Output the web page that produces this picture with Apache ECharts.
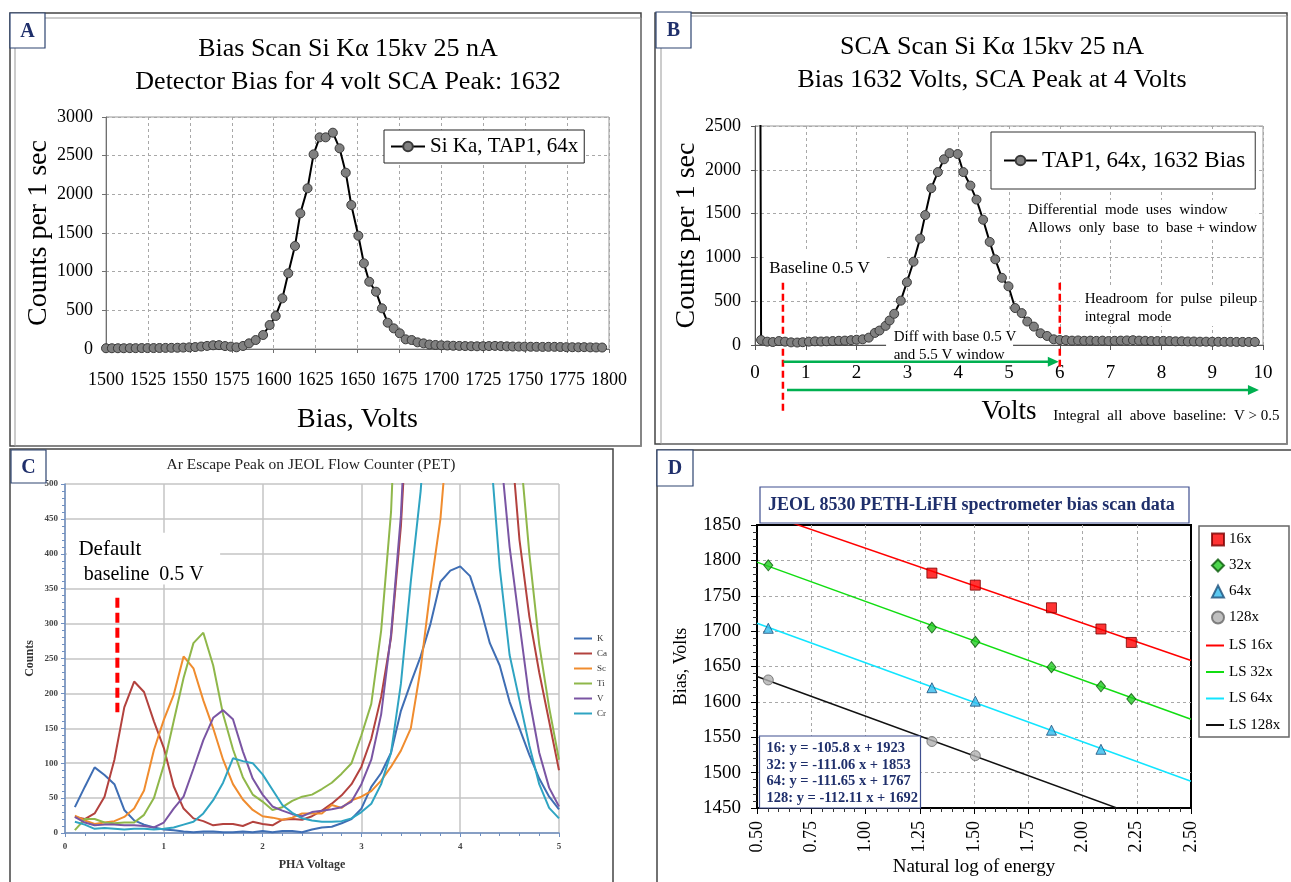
<!DOCTYPE html>
<html><head><meta charset="utf-8">
<script src="https://cdn.jsdelivr.net/npm/echarts@6/dist/echarts.min.js"></script>
<style>html,body{margin:0;padding:0;background:#fff}#c{width:1291px;height:882px}</style>
</head><body><div id="c"></div>
<script>
const FONT = '"Liberation Serif","Times New Roman",serif';
const NAVY = '#1F2F6B';

// ---------------- Panel A : bias scan ----------------
const A_BIAS = [1500,1503.5,1507.1,1510.6,1514.2,1517.7,1521.3,1524.8,1528.4,1531.9,1535.5,1539,1542.6,1546.1,1549.7,1553.2,1556.8,1560.3,1563.9,1567.4,1571,1574.5,
  1577.8,1581.7,1585.3,1589.3,1593.7,1597.6,1601.2,1605.2,1608.7,1612.7,1615.9,1620.2,1623.8,1627.4,1631,1635.3,
  1639.3,1643,1646.3,1650.5,1653.8,1657,1661,1664.6,1668,
  1671.6,1675.2,1678.7,1682.3,1685.8,1689.4,1692.9,1696.5,1700,1703.6,1707.1,1710.7,1714.2,1717.8,1721.3,1724.9,1728.4,1732,1735.5,1739.1,1742.6,1746.2,1749.7,1753.3,1756.8,1760.4,1763.9,1767.5,1771,1774.6,1778.1,1781.7,1785.2,1788.8,1792.3,1795.9];
const A_COUNTS = [10,10,10,10,11,11,12,12,12,13,14,15,16,18,22,25,32,40,48,50,38,30,
  22,39,73,116,181,310,427,655,979,1332,1754,2078,2517,2737,2737,2797,
  2595,2280,1862,1465,1108,870,741,526,340,
  267,203,125,116,86,73,58,52,48,45,42,40,38,36,35,36,38,40,37,34,32,31,30,29,28,27,28,28,26,24,23,22,24,21,20,19];

// ---------------- Panel B : SCA scan ----------------
const B_SPIKE = [0.1, 4000];
const B_VOLTS = [0.12,0.24,0.35,0.47,0.59,0.71,0.83,0.94,1.06,1.18,1.3,1.41,1.53,1.65,1.77,1.89,2.0,
  2.12,2.24,2.36,2.45,2.57,2.65,2.74,2.87,2.99,3.12,3.25,3.35,3.47,3.6,3.72,3.83,3.99,
  4.1,4.24,4.36,4.49,4.62,4.73,4.86,4.99,5.12,5.25,5.36,5.49,5.62,5.75,5.88,6.0,
  6.12,6.24,6.36,6.48,6.6,6.72,6.84,6.96,7.08,7.2,7.32,7.44,7.56,7.68,7.8,7.92,8.04,8.16,8.28,8.4,8.52,8.64,8.76,8.88,9.0,9.12,9.24,9.36,9.48,9.6,9.72,9.84];
const B_COUNTS = [57,38,34,45,38,30,28,32,38,42,40,42,45,48,50,55,60,
  65,84,138,165,218,280,356,506,716,951,1215,1483,1790,1974,2120,2190,2180,
  1974,1820,1660,1430,1177,978,767,670,422,364,268,210,134,103,65,57,
  55,50,52,48,50,47,50,45,48,50,52,55,50,48,45,45,47,45,42,43,40,40,38,38,37,37,36,36,35,35,35,35];

// ---------------- Panel C : Ar escape peak ----------------
const C_PHA = [0.1,0.2,0.3,0.4,0.5,0.6,0.7,0.8,0.9,1.0,1.1,1.2,1.3,1.4,1.5,1.6,1.7,1.8,1.9,2.0,
  2.1,2.2,2.3,2.4,2.5,2.6,2.7,2.8,2.9,3.0,3.1,3.2,3.3,3.4,3.5,3.6,3.7,3.8,3.9,4.0,
  4.1,4.2,4.3,4.4,4.5,4.6,4.7,4.8,4.9,5.0];
const C_K  = [37,66,94,83,70,33,18,12,8,5, 4,2,1,2,2,1,1,2,1,3, 1,3,3,1,5,8,9,14,20,35,
  66,86,115,175,215,253,300,360,376,382, 368,325,272,240,188,150,112,78,52,34];
const C_CA = [23,20,28,52,105,180,217,202,160,122, 67,35,21,17,11,13,13,10,16,13, 11,19,20,19,24,32,42,54,70,95,
  135,195,280,440,700,1000,1350,1650,1850,1850, 1700,1400,1100,800,590,420,310,230,160,90];
const C_SC = [25,18,13,15,17,23,35,61,119,162, 198,253,236,190,150,105,70,48,33,24, 22,19,22,28,28,28,40,36,47,52,
  60,75,95,118,150,236,350,450,620,900, 1100,1300,1400,1450,1400,1300,1150,1000,850,700];
const C_TI = [4,20,20,15,14,15,15,26,50,97, 160,222,272,287,240,170,120,80,55,45, 33,37,46,52,55,63,72,85,100,140,
  185,290,460,800,1200,1500,1700,1800,1800,1700, 1500,1300,1100,900,720,560,400,270,180,105];
const C_VAN = [23,15,11,12,12,11,11,10,8,15, 35,52,92,133,165,176,163,117,78,55, 38,32,27,24,30,32,34,37,45,70,
  105,170,285,455,750,1100,1400,1600,1650,1500, 1200,950,720,560,410,300,192,115,65,38];
const C_CR = [16,12,6,7,6,5,6,6,5,6, 8,12,16,28,47,72,107,103,100,84, 62,40,29,21,18,16,16,17,21,30,
  42,70,115,214,360,490,700,900,1000,1000, 900,750,560,380,255,190,125,70,36,21];
const C_NAMES = ['K','Ca','Sc','Ti','V','Cr'];
const C_COLORS = ['#3F6EB4','#B3423E','#F08C2E','#8FB74A','#7A55A3','#2FA4C2'];

// ---------------- Panel D : bias vs ln(E) ----------------
const D_X_16 = [1.306,1.506,1.857,2.085,2.225];
const D_Y_16 = [1782,1765,1733,1703,1684];
const D_X_32 = [0.552,1.306,1.506,1.857,2.085,2.225];
const D_Y_32 = [1793,1705,1685,1649,1622,1604];
const D_X_64 = [0.552,1.306,1.506,1.857,2.085];
const D_Y_64 = [1704,1620,1601,1560,1533];
const D_X_128 = [0.552,1.306,1.506];
const D_Y_128 = [1631,1544,1524];
const D_LS_X = [0.5,2.5];
const D_LS_16 = [1870.1,1658.5];
const D_LS_32 = [1797.5,1575.4];
const D_LS_64 = [1711.2,1487.9];
const D_LS_128 = [1635.9,1411.7];
const D_EQUATIONS = ['16: y = -105.8 x + 1923','32: y = -111.06 x + 1853','64: y = -111.65 x + 1767','128: y = -112.11 x + 1692'];

const zip = (xs, ys) => xs.map((x, i) => [x, ys[i]]);
const plain = v => String(v);
const LINE_ICON = 'path://M0,0H18V2H0Z';

// ---------- annotation renderers (anchored to axis values) ----------
function textEl(p, s, font) {
  return {type:'text', x:p[0], y:p[1], style:{text:s, font:font, fill:'#000',
    align:'left', verticalAlign:'middle', textAlign:'left', textVerticalAlign:'middle'}};
}
function rectEl(a, b) {
  return {type:'rect', shape:{x:Math.min(a[0],b[0]), y:Math.min(a[1],b[1]), width:Math.abs(b[0]-a[0]), height:Math.abs(b[1]-a[1])}, style:{fill:'#fff'}};
}
function renderBNotes(params, api) {
  const P = (x, y) => api.coord([x, y]);
  const k = [];
  k.push(rectEl(P(0.17,1085), P(2.58,720)));
  k.push(rectEl(P(2.58,150), P(5.08,-230)));
  k.push(rectEl(P(5.26,1656), P(9.86,1199)));
  k.push(rectEl(P(6.4,655), P(9.75,218)));
  const dash = (x, y0, y1) => { const a = P(x,y0), b = P(x,y1);
    k.push({type:'line', shape:{x1:a[0],y1:a[1],x2:b[0],y2:b[1]}, style:{stroke:'#FF0000', lineWidth:2.5, lineDash:[7,4]}}); };
  const arrow = (x0, x1, y) => { const a = P(x0,y), b = P(x1,y);
    k.push({type:'line', shape:{x1:a[0],y1:a[1],x2:b[0]-8,y2:b[1]}, style:{stroke:'#00B050', lineWidth:2.5}});
    k.push({type:'polygon', shape:{points:[[b[0],b[1]],[b[0]-11,b[1]-5],[b[0]-11,b[1]+5]]}, style:{fill:'#00B050'}}); };
  dash(0.55, 710, -780);
  dash(6.0, 710, -255);
  arrow(0.56, 5.98, -191);
  arrow(0.63, 9.92, -514);
  const f15 = '15px ' + FONT;
  k.push(textEl(P(0.28, 874), 'Baseline 0.5 V', '17px ' + FONT));
  k.push(textEl(P(2.73, 91), 'Diff with base 0.5 V', f15));
  k.push(textEl(P(2.73, -114), 'and 5.5 V window', f15));
  k.push(textEl(P(5.37, 1542), 'Differential  mode  uses  window', f15));
  k.push(textEl(P(5.37, 1336), 'Allows  only  base  to  base + window', f15));
  k.push(textEl(P(6.49, 525), 'Headroom  for  pulse  pileup', f15));
  k.push(textEl(P(6.49, 320), 'integral  mode', f15));
  k.push(textEl(P(5.87, -811), 'Integral  all  above  baseline:  V > 0.5', f15));
  return {type:'group', children:k};
}
function renderCNotes(params, api) {
  const P = (x, y) => api.coord([x, y]);
  const k = [];
  k.push(rectEl(P(0.02,430), P(1.57,356)));
  const a = P(0.53, 337), b = P(0.53, 173);
  k.push({type:'line', shape:{x1:a[0],y1:a[1],x2:b[0],y2:b[1]}, style:{stroke:'#FF0000', lineWidth:4, lineDash:[10,5]}});
  k.push(textEl(P(0.136, 406), 'Default', '21px ' + FONT));
  k.push(textEl(P(0.19, 370), 'baseline  0.5 V', '20px ' + FONT));
  return {type:'group', children:k};
}

// ---------- common axis helpers ----------
const dotted = {show:true, lineStyle:{color:'#A8A8A8', type:[3,3], width:1}};
const dottedInner = {show:true, showMinLine:false, showMaxLine:false, lineStyle:{color:'#A8A8A8', type:[3,3], width:1}};
function lbl(size, margin, extra) {
  return Object.assign({fontFamily:FONT, fontSize:size, color:'#000', margin:margin, formatter:plain}, extra || {});
}
function nameStyle(size, extra) {
  return Object.assign({fontFamily:FONT, fontSize:size, color:'#000'}, extra || {});
}

const graphics = [];
graphics.push({type:'rect', z:1, shape:{x:10,y:13,width:631,height:433}, style:{fill:'none', stroke:'#444', lineWidth:1.5}});
graphics.push({type:'rect', z:1, shape:{x:15,y:18,width:626,height:428}, style:{fill:'none', stroke:'#999', lineWidth:1}});
graphics.push({type:'rect', z:1, shape:{x:655,y:13,width:632,height:431}, style:{fill:'none', stroke:'#444', lineWidth:1.5}});
graphics.push({type:'rect', z:1, shape:{x:661,y:16,width:626,height:428}, style:{fill:'none', stroke:'#999', lineWidth:1}});
graphics.push({type:'rect', z:1, shape:{x:10,y:449,width:603,height:450}, style:{fill:'none', stroke:'#444', lineWidth:1.5}});
graphics.push({type:'rect', z:1, shape:{x:657,y:450,width:640,height:450}, style:{fill:'none', stroke:'#444', lineWidth:1.5}});
graphics.push({type:'rect', z:1, shape:{x:1199,y:526,width:90,height:211}, style:{fill:'#fff', stroke:'#666', lineWidth:1.5}});
[['A',10,13,35,35],['B',656,12,35,36],['C',11,450,35,33],['D',657,450,36,36]].forEach(([t,x,y,w,h]) => {
  graphics.push({type:'rect', z:60, shape:{x:x,y:y,width:w,height:h}, style:{fill:'#fff', stroke:'#2E4470', lineWidth:1.2}});
  graphics.push({type:'text', z:61, x:x+w/2, y:y+h/2+1, style:{text:t, font:'bold 20px ' + FONT, fill:NAVY, align:'center', verticalAlign:'middle', textAlign:'center', textVerticalAlign:'middle'}});
});
function ctext(x, y, s, font, fill) {
  return {type:'text', z:30, x:x, y:y, style:{text:s, font:font, fill:fill || '#000', align:'center', verticalAlign:'middle', textAlign:'center', textVerticalAlign:'middle'}};
}
function ltext(x, y, s, font, fill) {
  return {type:'text', z:62, x:x, y:y, style:{text:s, font:font, fill:fill || '#000', align:'left', verticalAlign:'middle', textAlign:'left', textVerticalAlign:'middle'}};
}
graphics.push(ctext(348, 49, 'Bias Scan Si Kα 15kv 25 nA', '26px ' + FONT));
graphics.push(ctext(348, 82, 'Detector Bias for 4 volt SCA Peak: 1632', '26px ' + FONT));
graphics.push(ctext(992, 47, 'SCA Scan Si Kα 15kv 25 nA', '26px ' + FONT));
graphics.push(ctext(992, 80, 'Bias 1632 Volts, SCA Peak at 4 Volts', '26px ' + FONT));
graphics.push(ctext(311, 465, 'Ar Escape Peak on JEOL Flow Counter (PET)', '15.5px ' + FONT, '#222'));
graphics.push({type:'rect', z:60, shape:{x:760,y:487,width:429,height:36}, style:{fill:'#fff', stroke:'#3F4F8F', lineWidth:1.2}});
graphics.push(ltext(768, 505, 'JEOL 8530 PETH-LiFH spectrometer bias scan data', 'bold 18px ' + FONT, NAVY));
graphics.push({type:'rect', z:60, shape:{x:759.5,y:736,width:161,height:72}, style:{fill:'#fff', stroke:'#3F4F8F', lineWidth:1.2}});
D_EQUATIONS.forEach((s, i) => graphics.push(ltext(766.5, 748.5 + i*16.6, s, 'bold 14.5px ' + FONT, NAVY)));

const option = {
  animation: false,
  backgroundColor: '#fff',
  textStyle: {fontFamily: FONT},
  grid: [
    {left:106, top:117, width:503, height:232, show:true, borderColor:'#999', borderWidth:1, outerBoundsMode:'none'},
    {left:755, top:126, width:508, height:219, show:true, borderColor:'#999', borderWidth:1, outerBoundsMode:'none'},
    {left:65, top:484, width:494, height:349, show:false, outerBoundsMode:'none'},
    {left:757, top:525, width:434, height:283, show:true, borderColor:'#000', borderWidth:2, outerBoundsMode:'none'}
  ],
  xAxis: [
    {gridIndex:0, type:'value', min:1500, max:1800, interval:25,
      axisLine:{show:true, lineStyle:{color:'#707070'}}, axisTick:{show:true, length:4, lineStyle:{color:'#707070'}},
      axisLabel:lbl(18, 22), splitLine:dotted,
      name:'Bias, Volts', nameLocation:'middle', nameGap:57, nameTextStyle:nameStyle(28)},
    {gridIndex:1, type:'value', min:0, max:10, interval:1,
      axisLine:{show:true, onZero:false, lineStyle:{color:'#555'}}, axisTick:{show:true, length:5, lineStyle:{color:'#555'}},
      axisLabel:lbl(19, 19), splitLine:dotted,
      name:'Volts', nameLocation:'middle', nameGap:53, nameTextStyle:nameStyle(27)},
    {gridIndex:2, type:'value', min:0, max:5, interval:1,
      axisLine:{show:true, lineStyle:{color:'#6F8FC0', width:1.5}}, axisTick:{show:true, length:4, lineStyle:{color:'#6F8FC0'}},
      minorTick:{show:true, splitNumber:5, length:3, lineStyle:{color:'#6F8FC0'}},
      axisLabel:lbl(9, 9, {color:'#444', fontWeight:'bold'}), splitLine:{show:true, lineStyle:{color:'#C4C4C4', width:1.5}},
      name:'PHA Voltage', nameLocation:'middle', nameGap:26, nameTextStyle:nameStyle(12, {color:'#333', fontWeight:'bold'})},
    {gridIndex:3, type:'value', min:0.5, max:2.5, interval:0.25,
      axisLine:{show:true, onZero:false, lineStyle:{color:'#000', width:2}}, axisTick:{show:true, length:6, lineStyle:{color:'#000'}},
      minorTick:{show:true, splitNumber:5, length:4, lineStyle:{color:'#333'}},
      axisLabel:lbl(18, 13, {rotate:90, formatter: v => v.toFixed(2)}), splitLine:dottedInner,
      name:'Natural log of energy', nameLocation:'middle', nameGap:50, nameTextStyle:nameStyle(19)}
  ],
  yAxis: [
    {gridIndex:0, type:'value', min:0, max:3000, interval:500,
      axisLine:{show:true, lineStyle:{color:'#707070'}}, axisTick:{show:true, length:4, lineStyle:{color:'#707070'}},
      axisLabel:lbl(18, 13), splitLine:dotted,
      name:'Counts per 1 sec', nameLocation:'middle', nameGap:47, nameTextStyle:nameStyle(28)},
    {gridIndex:1, type:'value', min:0, max:2500, interval:500,
      axisLine:{show:true, lineStyle:{color:'#555'}}, axisTick:{show:true, length:4, lineStyle:{color:'#555'}},
      axisLabel:lbl(18, 14), splitLine:dotted,
      name:'Counts per 1 sec', nameLocation:'middle', nameGap:54, nameTextStyle:nameStyle(28)},
    {gridIndex:2, type:'value', min:0, max:500, interval:50,
      axisLine:{show:true, lineStyle:{color:'#6F8FC0', width:1.5}}, axisTick:{show:true, length:4, lineStyle:{color:'#6F8FC0'}},
      minorTick:{show:true, splitNumber:5, length:3, lineStyle:{color:'#6F8FC0'}},
      axisLabel:lbl(9, 7, {color:'#444', fontWeight:'bold'}), splitLine:{show:true, lineStyle:{color:'#C4C4C4', width:1.5}},
      name:'Counts', nameLocation:'middle', nameGap:29, nameTextStyle:nameStyle(12, {color:'#333', fontWeight:'bold'})},
    {gridIndex:3, type:'value', min:1450, max:1850, interval:50,
      axisLine:{show:true, onZero:false, lineStyle:{color:'#000', width:2}}, axisTick:{show:true, length:6, lineStyle:{color:'#000'}},
      minorTick:{show:true, splitNumber:5, length:4, lineStyle:{color:'#333'}},
      axisLabel:lbl(19, 16), splitLine:dottedInner,
      name:'Bias, Volts', nameLocation:'middle', nameGap:67, nameTextStyle:nameStyle(18)}
  ],
  legend: [
    {data:['Si Ka, TAP1, 64x'], left:384, top:130, backgroundColor:'#fff', borderColor:'#222', borderWidth:1,
      padding:[6,6,6,6], itemWidth:34, itemHeight:12, textStyle:{fontFamily:FONT, fontSize:21, color:'#000'}, selectedMode:false},
    {data:['TAP1, 64x, 1632 Bias'], left:991, top:132, backgroundColor:'#fff', borderColor:'#333', borderWidth:1,
      padding:[17,10,17,12], itemWidth:33, itemHeight:12, textStyle:{fontFamily:FONT, fontSize:23, color:'#000'}, selectedMode:false},
    {data:C_NAMES.map(n => ({name:n, icon:LINE_ICON})), left:574, top:634, orient:'vertical', padding:0, itemWidth:18, itemHeight:10, itemGap:6,
      symbolKeepAspect:true, textStyle:{fontFamily:FONT, fontSize:9, color:'#333'}, selectedMode:false},
    {data:['16x','32x','64x','128x'], left:1211, top:532, orient:'vertical', padding:0, itemWidth:12, itemHeight:12, itemGap:11,
      symbolKeepAspect:true, textStyle:{fontFamily:FONT, fontSize:15, color:'#000'}, selectedMode:false},
    {data:['LS 16x','LS 32x','LS 64x','LS 128x'].map(n => ({name:n, icon:LINE_ICON})), left:1206, top:638, orient:'vertical', padding:0,
      itemWidth:18, itemHeight:11, itemGap:11.5, symbolKeepAspect:true, textStyle:{fontFamily:FONT, fontSize:15, color:'#000'}, selectedMode:false}
  ],
  graphic: {elements: graphics},
  series: [
    {type:'line', name:'Si Ka, TAP1, 64x', xAxisIndex:0, yAxisIndex:0, data:zip(A_BIAS, A_COUNTS),
      symbol:'circle', symbolSize:9, showAllSymbol:true, lineStyle:{color:'#000', width:2},
      itemStyle:{color:'#808080', borderColor:'#3A3A3A', borderWidth:1}, z:3},
    {type:'line', name:'TAP1, 64x, 1632 Bias', xAxisIndex:1, yAxisIndex:1,
      data:[{value:B_SPIKE, symbol:'none'}].concat(zip(B_VOLTS, B_COUNTS)),
      symbol:'circle', symbolSize:9, showAllSymbol:true, lineStyle:{color:'#000', width:2},
      itemStyle:{color:'#808080', borderColor:'#3A3A3A', borderWidth:1}, z:3},
    {type:'custom', name:'B notes', xAxisIndex:1, yAxisIndex:1, data:[[0,0]], renderItem:renderBNotes, silent:true, z:2, clip:false},
  ].concat(
    [C_K, C_CA, C_SC, C_TI, C_VAN, C_CR].map((ys, i) => ({
      type:'line', name:C_NAMES[i], xAxisIndex:2, yAxisIndex:2, data:zip(C_PHA, ys),
      symbol:'none', lineStyle:{color:C_COLORS[i], width:2}, itemStyle:{color:C_COLORS[i]}, z:3
    }))
  ).concat([
    {type:'custom', name:'C notes', xAxisIndex:2, yAxisIndex:2, data:[[0,0]], renderItem:renderCNotes, silent:true, z:6, clip:false},
    {type:'line', name:'LS 16x', xAxisIndex:3, yAxisIndex:3, data:zip(D_LS_X, D_LS_16), symbol:'none', lineStyle:{color:'#FF0000', width:1.5}, itemStyle:{color:'#FF0000'}, z:3},
    {type:'line', name:'LS 32x', xAxisIndex:3, yAxisIndex:3, data:zip(D_LS_X, D_LS_32), symbol:'none', lineStyle:{color:'#11DD11', width:1.5}, itemStyle:{color:'#11DD11'}, z:3},
    {type:'line', name:'LS 64x', xAxisIndex:3, yAxisIndex:3, data:zip(D_LS_X, D_LS_64), symbol:'none', lineStyle:{color:'#11E5FF', width:1.5}, itemStyle:{color:'#11E5FF'}, z:3},
    {type:'line', name:'LS 128x', xAxisIndex:3, yAxisIndex:3, data:zip(D_LS_X, D_LS_128), symbol:'none', lineStyle:{color:'#111', width:1.5}, itemStyle:{color:'#111'}, z:3},
    {type:'scatter', name:'16x', xAxisIndex:3, yAxisIndex:3, data:zip(D_X_16, D_Y_16), symbol:'rect', symbolSize:10,
      itemStyle:{color:'#FF0000', borderColor:'#7A0000', borderWidth:1}, z:5},
    {type:'scatter', name:'32x', xAxisIndex:3, yAxisIndex:3, data:zip(D_X_32, D_Y_32), symbol:'diamond', symbolSize:[9,11],
      itemStyle:{color:'#22CC22', borderColor:'#0A5A0A', borderWidth:1}, z:5},
    {type:'scatter', name:'64x', xAxisIndex:3, yAxisIndex:3, data:zip(D_X_64, D_Y_64), symbol:'triangle', symbolSize:10,
      itemStyle:{color:'#33BBEE', borderColor:'#1B4F7A', borderWidth:1}, z:5},
    {type:'scatter', name:'128x', xAxisIndex:3, yAxisIndex:3, data:zip(D_X_128, D_Y_128), symbol:'circle', symbolSize:10,
      itemStyle:{color:'#B0B0B0', borderColor:'#666', borderWidth:1}, z:5}
  ])
};

const chart = echarts.init(document.getElementById('c'), null, {renderer:'canvas', width:1291, height:882});
chart.setOption(option);
</script>
</body></html>
